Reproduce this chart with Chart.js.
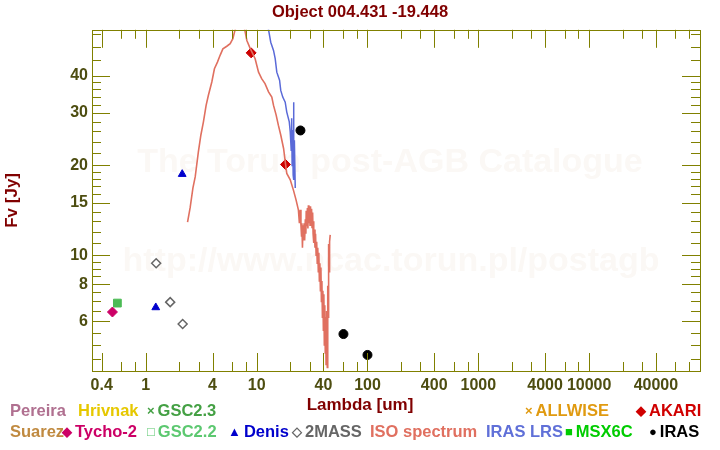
<!DOCTYPE html>
<html>
<head>
<meta charset="utf-8">
<script src="https://cdn.jsdelivr.net/npm/chart.js@4.4.1/dist/chart.umd.min.js"></script>
<style>
  body { margin: 0; background: #fff; }
  #wrap { position: relative; width: 720px; height: 450px; }
  #legend span.item { position: absolute; font: bold 16.5px "Liberation Sans", Arial, sans-serif; white-space: nowrap; line-height: 18px; }
  #legend span.mark { font-size: 13px; vertical-align: 1px; margin-right: 3px; }
</style>
</head>
<body>
<div id="wrap">
  <canvas id="sed" width="720" height="450"></canvas>
  <div id="legend"></div>
</div>
<script>
// photometry (lambda in um, flux in Jy)
const tychoLambda = [0.50];
const tychoFlux = [6.45];
const gsc22Lambda = [0.554];
const gsc22Flux = [6.91];
const gsc23Lambda = [0.554];
const gsc23Flux = [6.91];
const denisLambda = [1.23, 2.13];
const denisFlux = [6.68, 18.7];
const twomassLambda = [1.24, 1.66, 2.15];
const twomassFlux = [9.40, 6.96, 5.88];
const akariLambda = [8.92, 18.2];
const akariFlux = [47.7, 20.15];
const irasLambda = [24.85, 60.7, 100];
const irasFlux = [26.2, 5.44, 4.63];

// ISO spectrum
const isoLambda = [2.38, 2.51, 2.66, 2.79, 2.98, 3.14, 3.31, 3.50, 3.67, 3.94, 4.16, 4.43, 4.68, 4.96, 5.38, 5.77,
  6.10, 6.31, 6.53, 7.10, 7.71, 8.16, 8.74, 9.69, 10.4, 11.1, 11.9, 12.8, 13.7, 14.2, 15.0, 15.7, 16.5, 17.5,
  18.2, 18.7, 20.1, 21.5, 22.7, 23.8, 24.3, 24.7, 25.1, 25.4, 25.6, 25.9, 26.2, 26.5, 26.8, 27.1, 27.5, 27.8,
  28.0, 28.4, 28.7, 29.0, 29.3, 29.6, 30.0, 30.3, 30.6, 31.0, 31.3, 31.6, 32.0, 32.3, 32.6, 32.9, 33.2, 33.6,
  34.0, 34.4, 34.8, 35.2, 35.6, 36.0, 36.4, 36.8, 37.2, 37.6, 38.0, 38.4, 38.8, 39.2, 39.6, 40.0, 40.4, 40.8,
  41.2, 41.6, 42.0, 42.3, 42.6, 43.0, 43.4, 43.8, 44.2, 44.6, 45.0, 45.5, 46.1];
const isoFlux = [12.9, 14.4, 16.8, 18.3, 22.2, 25.3, 28.0, 31.8, 34.4, 38.1, 42.2, 44.4, 46.8, 49.2, 50.2, 51.2,
  53.2, 56.0, 58.5, 59.0, 58.5, 52.5, 49.4, 45.6, 41.1, 39.1, 37.6, 35.3, 33.9, 31.8, 29.5, 27.3, 25.3, 22.8,
  20.3, 18.8, 17.9, 16.5, 15.3, 14.2, 12.8, 14.2, 12.6, 11.6, 12.8, 10.6, 12.6, 11.2, 12.8, 11.2, 13.2, 11.8,
  14.1, 12.5, 14.4, 12.3, 14.7, 12.8, 14.5, 12.6, 14.6, 12.9, 14.3, 12.4, 13.9, 11.8, 13.0, 11.0, 12.2, 10.6,
  11.8, 10.0, 11.1, 9.4, 10.6, 8.8, 10.2, 8.2, 9.4, 7.6, 9.1, 7.0, 8.2, 6.2, 7.6, 5.6, 7.4, 5.0,
  6.8, 4.7, 6.2, 4.3, 6.5, 4.9, 4.2, 7.9, 6.2, 10.9, 8.8, 11.1, 11.7];

// IRAS LRS spectrum
const lrsLambda = [11.7, 12.7, 13.4, 14.2, 14.7, 15.2, 16.1, 16.5, 17.2, 18.1, 18.7, 19.7, 20.1, 20.5, 20.7,
  20.9, 21.1, 21.35, 21.5, 21.7, 21.9, 22.3];
const lrsFlux = [60.3, 58.0, 51.8, 48.6, 45.6, 41.1, 38.6, 35.7, 33.9, 32.6, 30.2, 28.0, 25.9, 22.5, 28.8,
  20.0, 26.3, 18.6, 32.6, 17.9, 24.3, 16.8];

// axis ticks
const xMajorTicks = [0.4, 1, 4, 10, 40, 100, 400, 1000, 4000, 10000, 40000];
const xMinorTicks = [0.6, 0.8, 2, 3, 6, 8, 20, 30, 60, 80, 200, 300, 600, 800, 2000, 3000, 6000, 8000,
  20000, 30000, 60000, 80000];
const yMajorTicks = [6, 8, 10, 15, 20, 30, 40];
const yMinorTicks = [4.5, 5, 5.5, 6.5, 7, 7.5, 8.5, 9, 9.5, 11, 12, 13, 14, 16, 17, 18, 19, 22, 24, 26, 28,
  32, 34, 36, 38, 45, 50, 55];

// legend
const legendNames = ['Pereira', 'Hrivnak', 'GSC2.3', 'ALLWISE', 'AKARI',
  'Suarez', 'Tycho-2', 'GSC2.2', 'Denis', '2MASS', 'ISO spectrum', 'IRAS LRS', 'MSX6C', 'IRAS'];
const legendMarks = ['', '', '×', '×', '◆', '', '◆', '□', '▲', '◇', '', '', '■', '●'];
const legendColors = ['#b07090', '#e6c800', '#44a044', '#e09a10', '#d00000',
  '#c08a40', '#cc0066', '#5cc870', '#0000cc', '#666666', '#e07060', '#6070d8', '#00cc00', '#000000'];
const legendPos = [[10, 401], [78, 401], [147, 401], [525, 401], [636, 401],
  [10, 422], [62, 422], [147, 422], [228, 422], [292, 422], [370, 422], [486, 422], [565, 422], [649, 422]];

const pts = (xs, ys) => xs.map((x, i) => ({ x: x, y: ys[i] }));

const legendEl = document.getElementById('legend');
legendNames.forEach((name, i) => {
  const s = document.createElement('span');
  s.className = 'item';
  s.style.left = legendPos[i][0] + 'px';
  s.style.top = legendPos[i][1] + 'px';
  s.style.color = legendColors[i];
  if (legendMarks[i]) {
    const m = document.createElement('span');
    m.className = 'mark';
    m.textContent = legendMarks[i];
    s.appendChild(m);
  }
  s.appendChild(document.createTextNode(name));
  legendEl.appendChild(s);
});

// faint watermark behind the data
const watermark = {
  id: 'watermark',
  beforeDatasetsDraw(chart) {
    const { ctx } = chart;
    ctx.save();
    ctx.fillStyle = '#fbf8f5';
    ctx.textAlign = 'center';
    ctx.textBaseline = 'middle';
    ctx.font = 'bold 34px "Liberation Sans", Arial, sans-serif';
    ctx.fillText('The Torun post-AGB Catalogue', 390, 163);
    ctx.fillText('http://www.ncac.torun.pl/postagb', 391, 262);
    ctx.restore();
  }
};

// frame with inward ticks on all four sides
const frame = {
  id: 'frame',
  afterDraw(chart) {
    const { ctx, chartArea: a, scales: { x, y } } = chart;
    ctx.save();
    ctx.strokeStyle = '#808000';
    ctx.lineWidth = 1;
    ctx.beginPath();
    x.ticks.forEach(t => {
      const px = Math.round(x.getPixelForValue(t.value)) + 0.5;
      const len = xMajorTicks.includes(t.value) ? 18 : 9;
      ctx.moveTo(px, a.bottom); ctx.lineTo(px, a.bottom - len);
      ctx.moveTo(px, a.top); ctx.lineTo(px, a.top + len);
    });
    y.ticks.forEach(t => {
      const py = Math.round(y.getPixelForValue(t.value)) + 0.5;
      const len = yMajorTicks.includes(t.value) ? 18 : 9;
      ctx.moveTo(a.left, py); ctx.lineTo(a.left + len, py);
      ctx.moveTo(a.right, py); ctx.lineTo(a.right - len, py);
    });
    ctx.stroke();
    ctx.strokeRect(Math.round(a.left) + 0.5, Math.round(a.top) + 0.5,
      Math.round(a.right - a.left), Math.round(a.bottom - a.top));
    ctx.restore();
  }
};

const fam = '"Liberation Sans", Arial, sans-serif';
const tickFont = { family: fam, size: 16, weight: 'bold' };

new Chart(document.getElementById('sed'), {
  type: 'scatter',
  data: {
    datasets: [
      { label: 'ISO spectrum', type: 'line', data: pts(isoLambda, isoFlux), borderColor: '#e07060',
        borderWidth: 1.6, pointRadius: 0, fill: false },
      { label: 'IRAS LRS', type: 'line', data: pts(lrsLambda, lrsFlux), borderColor: '#5a6ad8',
        borderWidth: 1.5, pointRadius: 0, fill: false },
      { label: 'GSC2.2', data: pts(gsc22Lambda, gsc22Flux), pointStyle: 'rect', pointRadius: 5.5,
        backgroundColor: '#4cbb55', borderColor: '#4cbb55', borderWidth: 1 },
      { label: 'GSC2.3', data: pts(gsc23Lambda, gsc23Flux), pointStyle: 'crossRot', pointRadius: 4,
        borderColor: '#66c070', borderWidth: 1 },
      { label: 'Tycho-2', data: pts(tychoLambda, tychoFlux), pointStyle: 'rectRot', pointRadius: 5,
        backgroundColor: '#cc0066', borderColor: '#cc0066', borderWidth: 1 },
      { label: 'Denis', data: pts(denisLambda, denisFlux), pointStyle: 'triangle', pointRadius: 4.5,
        backgroundColor: '#0000cc', borderColor: '#0000cc', borderWidth: 1 },
      { label: '2MASS', data: pts(twomassLambda, twomassFlux), pointStyle: 'rectRot', pointRadius: 4.5,
        backgroundColor: '#ffffff', borderColor: '#666666', borderWidth: 1.5 },
      { label: 'AKARI', data: pts(akariLambda, akariFlux), pointStyle: 'rectRot', pointRadius: 5,
        backgroundColor: '#cc0000', borderColor: '#cc0000', borderWidth: 1 },
      { label: 'IRAS', data: pts(irasLambda, irasFlux), pointStyle: 'circle', pointRadius: 4.5,
        backgroundColor: '#000000', borderColor: '#000000', borderWidth: 1 }
    ]
  },
  options: {
    responsive: false,
    animation: false,
    devicePixelRatio: 1,
    layout: { padding: 0 },
    plugins: {
      legend: { display: false },
      tooltip: { enabled: false },
      title: {
        display: true,
        text: 'Object 004.431 -19.448',
        color: '#800000',
        font: { family: fam, size: 16.5, weight: 'bold' },
        padding: { top: 3, bottom: 7 }
      },
      subtitle: {
        display: true,
        position: 'bottom',
        text: 'Lambda [um]',
        color: '#800000',
        font: { family: fam, size: 17, weight: 'bold' },
        padding: { top: 0, bottom: 34.6 }
      }
    },
    scales: {
      x: {
        type: 'logarithmic',
        position: 'bottom',
        bounds: 'data',
        min: 0.327,
        max: 100000,
        afterFit: s => { s.height = 24; },
        afterBuildTicks: s => {
          s.ticks = xMajorTicks.concat(xMinorTicks).sort((a, b) => a - b).map(v => ({ value: v }));
        },
        grid: { display: false, drawTicks: false },
        border: { display: false },
        ticks: {
          autoSkip: false,
          maxRotation: 0,
          padding: 5,
          color: '#4d4d10',
          font: tickFont,
          callback: v => xMajorTicks.includes(v) ? String(v) : ''
        }
      },
      y: {
        type: 'logarithmic',
        bounds: 'data',
        min: 4.09,
        max: 57,
        afterFit: s => { s.width = 92; },
        afterBuildTicks: s => {
          s.ticks = yMajorTicks.concat(yMinorTicks).sort((a, b) => a - b).map(v => ({ value: v }));
        },
        grid: { display: false, drawTicks: false },
        border: { display: false },
        ticks: {
          autoSkip: false,
          padding: 4,
          color: '#4d4d10',
          font: tickFont,
          callback: v => yMajorTicks.includes(v) ? String(v) : ''
        },
        title: {
          display: true,
          text: 'Fv [Jy]',
          color: '#800000',
          font: { family: fam, size: 17, weight: 'bold' },
          padding: { top: 2, bottom: 0 }
        }
      },
      yRight: {
        position: 'right',
        display: true,
        afterFit: s => { s.width = 20; },
        grid: { display: false, drawTicks: false },
        border: { display: false },
        ticks: { display: false }
      }
    }
  },
  plugins: [watermark, frame]
});
</script>
</body>
</html>
